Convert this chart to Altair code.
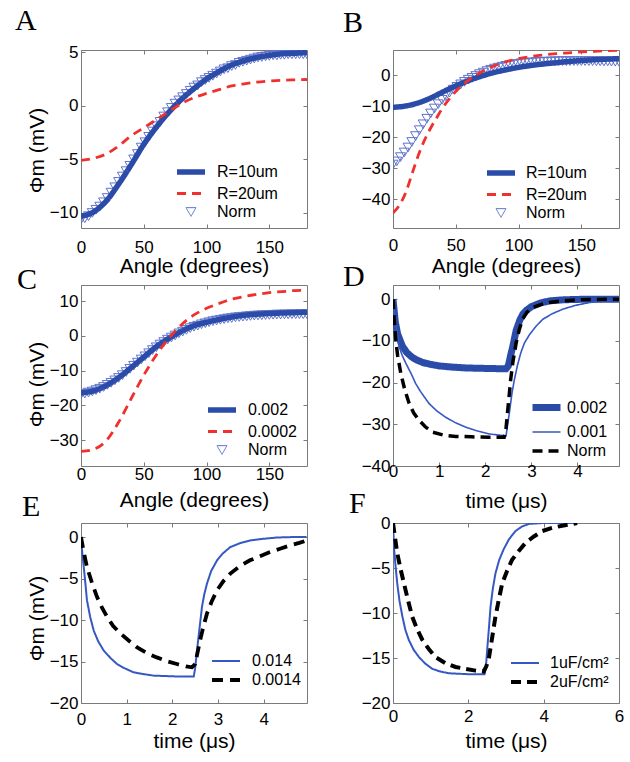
import altair as alt
import pandas as pd

FONT = "Liberation Sans"
SERIF = "Liberation Serif"
SEG = "M-2,0H2"

BLUE = "#2B4BA8"
BLUE_THIN = "#3658C2"
TRI = "#5F73CC"
RED = "#F0302C"
BLACK = "#000000"
FRAME = "#7a7a7a"

# ---------------- angle grids ----------------
angle_10 = [0, 10, 20, 30, 40, 50, 60, 70, 80, 90, 100, 110, 120, 130, 140, 150, 160, 170, 180]
angle_3 = list(range(0, 181, 3))

# ---------------- Panel A ----------------
A_r10 = [-10.3, -9.9, -8.9, -7.3, -5.5, -3.6, -2.0, -0.6, 0.6, 1.6, 2.5, 3.2, 3.8, 4.2, 4.5, 4.7, 4.85, 4.9, 4.95]
A_r20 = [-5.1, -4.9, -4.5, -3.75, -2.8, -2.05, -1.3, -0.55, 0.2, 0.75, 1.15, 1.5, 1.85, 2.05, 2.2, 2.3, 2.38, 2.42, 2.45]
A_norm = [-10.6, -10.5, -10.3, -10.0, -9.7, -9.4, -9.0, -8.6, -8.1, -7.6, -7.1, -6.6, -6.1, -5.6, -5.0, -4.5,
          -3.9, -3.4, -2.9, -2.4, -1.9, -1.5, -1.0, -0.6, -0.2, 0.2, 0.5, 0.8, 1.1, 1.4, 1.7, 1.9, 2.2, 2.4,
          2.6, 2.8, 3.0, 3.2, 3.4, 3.5, 3.7, 3.8, 4.0, 4.1, 4.2, 4.3, 4.4, 4.5, 4.55, 4.6, 4.65, 4.7, 4.7,
          4.75, 4.75, 4.8, 4.8, 4.8, 4.8, 4.8, 4.8]

# ---------------- Panel B ----------------
B_r10 = [-10.3, -9.9, -8.9, -7.3, -5.3, -3.4, -1.7, -0.3, 0.9, 1.8, 2.6, 3.2, 3.7, 4.1, 4.5, 4.8, 5.05, 5.25, 5.4]
B_r20_angle = [0, 5, 10, 15, 20, 25, 30, 35, 40, 45, 50, 60, 70, 80, 90, 100, 110, 120, 130, 140, 150, 160, 170, 180]
B_r20 = [-44.5, -42.0, -38.0, -32.0, -26.0, -21.0, -17.0, -13.5, -10.2, -7.5, -5.2, -1.6, 1.0, 3.0, 4.4, 5.4,
         6.1, 6.6, 7.0, 7.3, 7.6, 7.8, 8.0, 8.1]
B_norm = [-28.8, -27.8, -26.4, -24.9, -23.3, -21.5, -19.6, -17.7, -15.8, -14.0, -12.3, -10.7, -9.3, -7.9,
          -6.7, -5.6, -4.6, -3.7, -2.9, -2.1, -1.4, -0.8, -0.2, 0.4, 0.9, 1.4, 1.8, 2.2, 2.5, 2.8, 3.1, 3.3,
          3.5, 3.7, 3.9, 4.0, 4.1, 4.2, 4.3, 4.35, 4.4, 4.45, 4.5, 4.55, 4.6, 4.6, 4.6, 4.6, 4.6, 4.6, 4.6,
          4.6, 4.6, 4.6, 4.55, 4.55, 4.5, 4.5, 4.45, 4.4, 4.4]

# ---------------- Panel C ----------------
C_002 = [-16.4, -15.8, -14.3, -12.0, -9.1, -6.1, -3.1, -0.7, 1.3, 2.9, 3.9, 4.7, 5.4, 5.9, 6.2, 6.4, 6.55, 6.65, 6.8]
C_0002 = [-33.2, -32.6, -30.2, -24.8, -18.0, -11.3, -5.5, -0.7, 3.2, 6.0, 7.9, 9.3, 10.5, 11.3, 11.9, 12.4, 12.7, 13.0, 13.1]
C_norm = [-16.8, -16.6, -16.3, -16.0, -15.6, -15.2, -14.7, -14.1, -13.5, -12.8, -12.1, -11.3, -10.4, -9.5,
          -8.6, -7.7, -6.8, -5.9, -5.0, -4.1, -3.3, -2.5, -1.8, -1.1, -0.5, 0.1, 0.7, 1.2, 1.7, 2.2, 2.6, 2.9,
          3.3, 3.6, 3.9, 4.2, 4.4, 4.6, 4.8, 5.0, 5.1, 5.3, 5.4, 5.5, 5.6, 5.7, 5.8, 5.85, 5.9, 5.95, 6.0,
          6.05, 6.1, 6.1, 6.15, 6.15, 6.2, 6.2, 6.2, 6.2, 6.2]

# ---------------- Panel D ----------------
D_thick_t = [0, 0.05, 0.1, 0.2, 0.3, 0.4, 0.5, 0.65, 0.8, 1.0, 1.3, 1.6, 2.0, 2.45, 2.5, 2.55, 2.6, 2.67,
             2.75, 2.82, 2.9, 3.0, 3.2, 3.4, 3.7, 4.0, 4.5, 4.9]
D_thick_v = [0, -5.5, -8.3, -11.2, -12.8, -13.8, -14.5, -15.2, -15.6, -16.0, -16.3, -16.5, -16.6, -16.7,
             -16.0, -13.5, -11.2, -7.5, -5.0, -3.5, -2.6, -1.8, -0.9, -0.4, -0.15, -0.05, 0, 0]
D_thin_t = [0, 0.05, 0.13, 0.2, 0.28, 0.4, 0.49, 0.6, 0.78, 0.95, 1.14, 1.35, 1.58, 1.8, 2.08, 2.3, 2.45,
            2.52, 2.58, 2.63, 2.7, 2.77, 2.85, 2.96, 3.1, 3.25, 3.45, 3.68, 3.95, 4.26, 4.6, 4.9]
D_thin_v = [0, -5.0, -11.3, -13.5, -15.4, -18.0, -20.2, -22.2, -25.0, -26.8, -28.3, -29.6, -30.7, -31.5,
            -32.3, -32.6, -32.8, -27.5, -22.5, -19.4, -15.8, -12.9, -10.5, -8.5, -6.5, -4.8, -3.5, -2.4,
            -1.5, -0.8, -0.4, -0.2]
D_norm_t = [0, 0.03, 0.06, 0.1, 0.17, 0.25, 0.35, 0.45, 0.57, 0.7, 0.86, 1.1, 1.36, 1.7, 2.08, 2.41, 2.45,
            2.48, 2.52, 2.55, 2.6, 2.67, 2.74, 2.81, 2.9, 3.03, 3.2, 3.39, 3.65, 3.97, 4.4, 4.9]
D_norm_v = [0, -5.5, -9.7, -13.5, -17.8, -21.5, -25.0, -27.3, -29.1, -30.6, -31.9, -32.6, -32.9, -33.0,
            -33.1, -33.1, -31.0, -27.5, -23.0, -19.4, -15.0, -10.5, -7.2, -4.8, -3.2, -2.0, -1.3, -0.8,
            -0.45, -0.2, -0.05, 0]

# ---------------- Panel E ----------------
E_014_t = [0, 0.03, 0.06, 0.1, 0.13, 0.2, 0.28, 0.38, 0.5, 0.65, 0.79, 0.95, 1.15, 1.35, 1.59, 2.1, 2.47,
           2.5, 2.54, 2.6, 2.65, 2.7, 2.76, 2.85, 2.98, 3.1, 3.27, 3.5, 3.71, 4.0, 4.29, 4.6, 4.94]
E_014_v = [0, -2.0, -3.6, -5.8, -7.6, -9.6, -11.3, -12.6, -13.7, -14.6, -15.3, -15.8, -16.3, -16.5, -16.7,
           -16.8, -16.8, -15.8, -13.7, -10.8, -8.4, -6.9, -5.6, -4.1, -2.8, -2.0, -1.2, -0.7, -0.4, -0.2,
           -0.05, 0, 0]
E_0014_t = [0, 0.05, 0.13, 0.24, 0.35, 0.46, 0.57, 0.7, 0.86, 1.05, 1.23, 1.45, 1.66, 1.9, 2.1, 2.3, 2.43,
            2.5, 2.55, 2.61, 2.68, 2.76, 2.86, 2.98, 3.12, 3.27, 3.48, 3.7, 3.92, 4.14, 4.36, 4.58, 4.78, 4.95]
E_0014_v = [0, -1.5, -3.6, -5.5, -7.2, -8.5, -9.6, -10.7, -11.6, -12.5, -13.3, -14.0, -14.5, -15.0, -15.3,
            -15.6, -15.7, -15.3, -14.0, -12.4, -10.8, -9.2, -7.8, -6.4, -5.3, -4.4, -3.5, -2.8, -2.3, -1.8,
            -1.4, -1.0, -0.7, -0.4]

# ---------------- Panel F ----------------
F_1uF_t = [0, 0.03, 0.07, 0.11, 0.17, 0.25, 0.33, 0.42, 0.55, 0.69, 0.85, 1.04, 1.25, 1.49, 2.0, 2.43,
           2.47, 2.5, 2.55, 2.59, 2.65, 2.72, 2.82, 2.94, 3.08, 3.25, 3.42, 3.61, 4.0, 4.4, 4.85]
F_1uF_v = [0, -2.9, -4.9, -6.6, -8.6, -10.4, -11.9, -13.0, -14.1, -14.9, -15.6, -16.2, -16.5, -16.7, -16.8,
           -16.8, -15.8, -14.1, -11.5, -9.3, -7.3, -5.6, -4.1, -2.9, -1.8, -0.9, -0.4, -0.1, 0, 0, 0]
F_2uF_t = [0, 0.05, 0.11, 0.2, 0.29, 0.4, 0.51, 0.64, 0.78, 0.95, 1.13, 1.4, 1.66, 1.92, 2.19, 2.41, 2.48,
           2.55, 2.63, 2.72, 2.81, 2.9, 3.03, 3.16, 3.34, 3.52, 3.74, 3.96, 4.22, 4.49, 4.7, 4.89]
F_2uF_v = [0, -1.5, -3.3, -5.1, -6.7, -8.6, -10.4, -11.8, -13.0, -14.0, -14.9, -15.6, -16.0, -16.2, -16.4,
           -16.5, -15.9, -14.9, -12.8, -10.4, -8.5, -6.7, -5.3, -4.1, -3.1, -2.2, -1.5, -0.9, -0.55, -0.3,
           -0.15, 0]

TICK = 4


def make_panel(letter, letter_dx, letter_off, lines, points, xdom, xvals, xtitle, xlabpad, xtitlepad,
               ydom, yvals, ytitle, ytitle_y, legx, legy, labofs, height, interp):
    names = [l[0] for l in lines] + ([points[0]] if points else [])
    colors = [l[3] for l in lines] + ([points[3]] if points else [])
    dashes = [l[4] for l in lines] + ([[1, 0]] if points else [])
    widths = [l[5] for l in lines] + ([1] if points else [])
    shapes = [SEG for _ in lines] + (["triangle-down"] if points else [])
    sizes = [196 for _ in lines] + ([100] if points else [])

    leg = alt.Legend(title=None, orient="none", legendX=legx, legendY=legy, labelFont=FONT,
                     labelFontSize=16, labelColor="black", labelOffset=labofs, padding=0,
                     rowPadding=2, symbolType=SEG, symbolSize=196, symbolFillColor="transparent")

    xs_scale = alt.Scale(domain=xdom, nice=False, zero=False)
    ys_scale = alt.Scale(domain=ydom, nice=False, zero=False)

    # main (bottom / left) axes with inward ticks
    x_main = alt.Axis(values=xvals, title=xtitle, labelPadding=xlabpad, titlePadding=xtitlepad,
                      ticks=True, tickSize=TICK, offset=-TICK, tickColor=FRAME, orient="bottom")
    if ytitle:
        y_main = alt.Axis(values=yvals, title=ytitle, labelPadding=3, titlePadding=2, titleY=ytitle_y,
                          ticks=True, tickSize=TICK, offset=-TICK, tickColor=FRAME, orient="left")
    else:
        y_main = alt.Axis(values=yvals, title=None, labelPadding=3,
                          ticks=True, tickSize=TICK, offset=-TICK, tickColor=FRAME, orient="left")
    # mirrored (top / right) axes: ticks only
    x_top = alt.Axis(values=xvals, title=None, labels=False, ticks=True, tickSize=TICK, offset=-TICK,
                     tickColor=FRAME, orient="top")
    y_right = alt.Axis(values=yvals, title=None, labels=False, ticks=True, tickSize=TICK, offset=-TICK,
                       tickColor=FRAME, orient="right")

    color = alt.Color("s:N", scale=alt.Scale(domain=names, range=colors), legend=leg)
    dash = alt.StrokeDash("s:N", scale=alt.Scale(domain=names, range=dashes), legend=leg)
    sw = alt.StrokeWidth("s:N", scale=alt.Scale(type="ordinal", domain=names, range=widths), legend=leg)

    def xy(i):
        if i == 0:
            return (alt.X("x:Q", scale=xs_scale, axis=x_main), alt.Y("y:Q", scale=ys_scale, axis=y_main))
        if i == 1:
            return (alt.X("x:Q", scale=xs_scale, axis=x_top), alt.Y("y:Q", scale=ys_scale, axis=y_right))
        return (alt.X("x:Q", scale=xs_scale, axis=None), alt.Y("y:Q", scale=ys_scale, axis=None))

    layers = []
    if points:
        pdf = pd.DataFrame({"x": points[1], "y": points[2], "s": points[0]})
        xe, ye = xy(len(layers))
        layers.append(
            alt.Chart(pdf).mark_point(filled=False, strokeWidth=1, opacity=1, clip=True).encode(
                x=xe, y=ye, color=color,
                shape=alt.Shape("s:N", scale=alt.Scale(domain=names, range=shapes), legend=leg),
                size=alt.Size("s:N", scale=alt.Scale(type="ordinal", domain=names, range=sizes), legend=leg),
            )
        )
    for (name, xsv, ysv, c, d, w) in lines:
        df = pd.DataFrame({"x": xsv, "y": ysv, "s": name})
        xe, ye = xy(len(layers))
        layers.append(
            alt.Chart(df).mark_line(interpolate=interp, clip=True).encode(
                x=xe, y=ye, color=color, strokeDash=dash, strokeWidth=sw
            )
        )
    return alt.layer(*layers).resolve_axis(x="independent", y="independent").properties(
        width=226, height=height,
        title=alt.TitleParams(text=letter, font=SERIF, fontSize=30, fontWeight="normal", color="black",
                              anchor="start", frame="group", dx=letter_dx, offset=letter_off,
                              baseline="alphabetic"),
    )


ANG = "Angle (degrees)"
TIME = "time (\u03bcs)"
PHI = "\u03a6m (mV)"

pA = make_panel("A", -66, -17,
                [("R=10um", angle_10, A_r10, BLUE, [1, 0], 5.5),
                 ("R=20um", angle_10, A_r20, RED, [9, 6], 2.8)],
                ("Norm", angle_3, A_norm, TRI),
                [0, 180], [0, 50, 100, 150], ANG, 11, 0,
                [-11.4, 5.2], [-10, -5, 0, 5], PHI, 100, 100, 112, 16, 178, "monotone")
pB = make_panel("B", -50, -12,
                [("R=10um", angle_10, B_r10, BLUE, [1, 0], 5.5),
                 ("R=20um", B_r20_angle, B_r20, RED, [9, 6], 2.8)],
                ("Norm", angle_3, B_norm, TRI),
                [0, 180], [0, 50, 100, 150], ANG, 9, 2,
                [-49.3, 8.2], [-40, -30, -20, -10, 0], None, 0, 98, 113, 15, 178, "monotone")
pC = make_panel("C", -64, -34,
                [("0.002", angle_10, C_002, BLUE, [1, 0], 5.5),
                 ("0.0002", angle_10, C_0002, RED, [9, 6], 2.8)],
                ("Norm", angle_3, C_norm, TRI),
                [0, 180], [0, 50, 100, 150], ANG, 0, 7,
                [-37.4, 14.6], [-30, -20, -10, 0, 10], PHI, 99, 131, 115, 16, 181, "monotone")
pD = make_panel("D", -50, -31,
                [("0.002", D_thick_t, D_thick_v, BLUE, [1, 0], 7),
                 ("0.001", D_thin_t, D_thin_v, BLUE_THIN, [1, 0], 1.6),
                 ("Norm", D_norm_t, D_norm_v, BLACK, [10, 6], 3.5)],
                None,
                [0, 4.9], [0, 1, 2, 3, 4], TIME, -3, 11,
                [-40, 3.4], [-40, -30, -20, -10, 0], None, 0, 143, 112, 10, 181, "linear")
pE = make_panel("E", -59, -23,
                [("0.014", E_014_t, E_014_v, BLUE_THIN, [1, 0], 2),
                 ("0.0014", E_0014_t, E_0014_v, BLACK, [11, 7], 3.8)],
                None,
                [0, 4.95], [0, 1, 2, 3, 4], TIME, 8, 3,
                [-20, 1.7], [-20, -15, -10, -5, 0], PHI, 95, 136, 130, 17, 180, "linear")
pF = make_panel("F", -44, -29,
                [("1uF/cm\u00b2", F_1uF_t, F_1uF_v, BLUE_THIN, [1, 0], 2),
                 ("2uF/cm\u00b2", F_2uF_t, F_2uF_v, BLACK, [10, 6], 4)],
                None,
                [0, 6], [0, 2, 4, 6], TIME, 5, 6,
                [-20, 0], [-20, -15, -10, -5, 0], None, 0, 123, 132, 16, 180, "linear")

chart = alt.concat(pA, pB, pC, pD, pE, pF, columns=2, spacing={"row": 57, "column": 86},
                   bounds="flush").resolve_scale(
    color="independent", strokeDash="independent", strokeWidth="independent",
    shape="independent", size="independent"
).properties(
    padding={"left": 14, "top": 5, "right": 4, "bottom": 4}
).configure_view(
    stroke=FRAME, strokeWidth=1
).configure_axis(
    labelFont=FONT, labelFontSize=17, labelColor="black",
    titleFont=FONT, titleFontSize=21, titleFontWeight="normal", titleColor="black",
    domain=False, grid=False, labelFlush=False, labelOverlap=False
)

chart.save("out.html", embed_options={"renderer": "svg", "actions": False})
